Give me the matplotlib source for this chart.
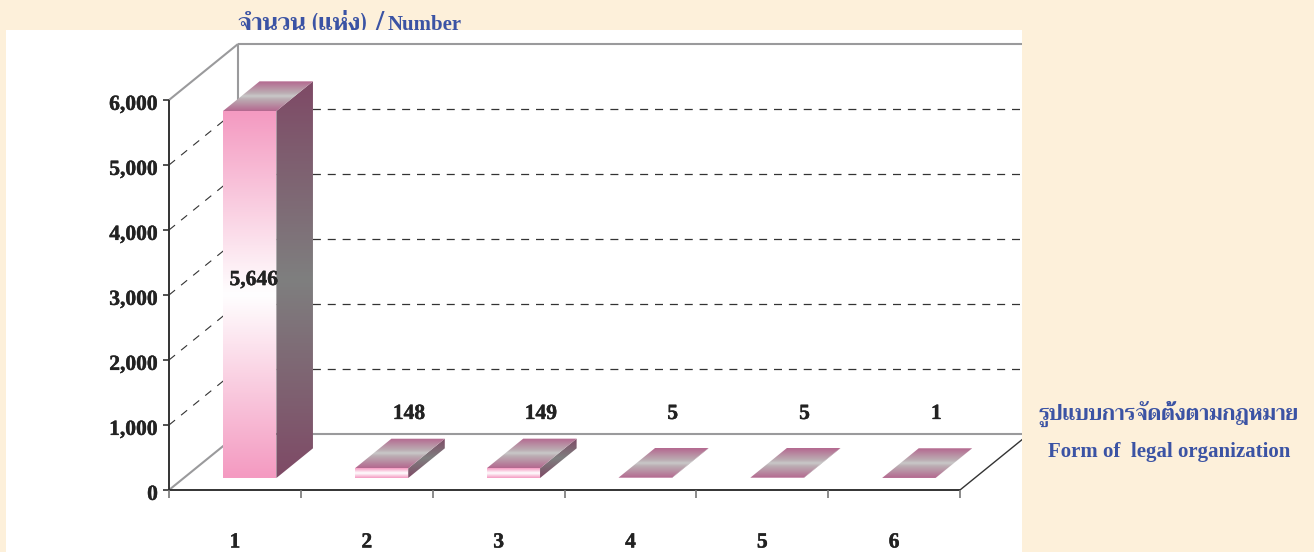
import matplotlib
matplotlib.use("Agg")
import matplotlib.pyplot as plt
import matplotlib.patheffects as pe
import numpy as np
from matplotlib.colors import LinearSegmentedColormap
from matplotlib.patches import Polygon, Rectangle

categories = ["1", "2", "3", "4", "5", "6"]
values = [5646, 148, 149, 5, 5, 1]
value_labels = ["5,646", "148", "149", "5", "5", "1"]
y_ticks = [0, 1000, 2000, 3000, 4000, 5000, 6000]

W, H = 1314, 552
BLUE = "#3b53a4"
INK = "#222222"
GREY = "#9a9a9c"
SERIF = ["Liberation Serif", "DejaVu Serif"]
THAI = ["Trirong", "Taviraj", "Liberation Serif", "DejaVu Sans"]
HEAVY = [pe.withStroke(linewidth=0.3, foreground=INK)]

front_cmap = LinearSegmentedColormap.from_list("front", ["#f49ac1", "#ffffff", "#f49ac1"])
top_cmap = LinearSegmentedColormap.from_list(
    "top", [(0, "#b4688f"), (0.4, "#bcaeb3"), (0.5, "#c9c9c9"), (0.6, "#bcaeb3"), (1, "#b4688f")])
side_cmap = LinearSegmentedColormap.from_list("side", ["#7e4a66", "#7f7f7f", "#7e4a66"])

fig = plt.figure(figsize=(W / 100, H / 100), dpi=100, facecolor="#fdf0da")
ax = fig.add_axes([169 / W, (H - 490) / H, 791 / W, 390 / H])
ax.patch.set_alpha(0)
ax.set_axis_off()
ax.set_zorder(1)

panel = Rectangle((6 / W, 0), 1016 / W, 522 / H, transform=fig.transFigure, fc="white", ec="none", zorder=0.5)
fig.add_artist(panel)

# depth of the fake 3d box, in data units
dx = 69 * 6 / 791
dy = 56 * 6000 / 390


def line(xs, ys, color=GREY, lw=1.5, **kw):
    l, = ax.plot(xs, ys, color=color, lw=lw, solid_capstyle="butt", **kw)
    l.set_clip_box(fig.bbox)
    l.set_clip_path(panel)
    return l


def face(verts, cmap, z):
    ys = [v[1] for v in verts]
    xs = [v[0] for v in verts]
    grad = np.linspace(0, 1, 128).reshape(-1, 1)
    im = ax.imshow(grad, cmap=cmap, aspect="auto", origin="lower", interpolation="bilinear",
                   extent=[min(xs), max(xs), min(ys), max(ys)], zorder=z)
    poly = Polygon(verts, closed=True, transform=ax.transData, fc="none", ec="none")
    im.set_clip_box(fig.bbox)
    im.set_clip_path(poly)


# walls and floor
line([dx, 6 + dx], [dy, dy])
line([dx, 6 + dx], [6000 + dy, 6000 + dy])
line([dx, dx], [dy, 6000 + dy])
line([0, dx], [6000, 6000 + dy])
line([0, dx], [0, dy])
line([6, 6 + dx], [0, dy], color="#333333", lw=1)
for t in y_ticks[1:-1]:
    line([0, dx], [t, t + dy], color="#333333", lw=0.8, dashes=(7, 7))
    line([dx, 6 + dx], [t + dy, t + dy], color="#333333", lw=0.9, dashes=(6.4, 5.5))
line([0, 0], [0, 6000], color="#333333", lw=1.4)
line([0, 6], [0, 0], color="#333333", lw=1.4)

# ticks
tick_w = 6 * 6 / 791
tick_h = 8 * 6000 / 390
for t in y_ticks:
    line([-tick_w, 0], [t, t], color="#333333", lw=1.2)
    ax.text(-11 * 6 / 791, t - 75, f"{t:,}", ha="right", va="center", fontsize=15.5, fontweight="bold",
            family=SERIF, color=INK, zorder=30, path_effects=HEAVY)
for i in range(7):
    line([i, i], [-tick_h, 0], color="#777777", lw=1.2)
for i, c in enumerate(categories):
    ax.text(i + 0.5, -52.5 * 6000 / 390, c, ha="center", va="center", fontsize=15.5, fontweight="bold",
            family=SERIF, color=INK, zorder=30, path_effects=HEAVY)

# bars
z0 = 0.214
bw = 0.405
depth = 0.53
for i, v in enumerate(values):
    x0 = i + 0.5 - bw / 2 + z0 * dx
    x1 = x0 + bw
    y0 = z0 * dy
    y1 = y0 + v
    ox = depth * dx
    oy = depth * dy
    face([(x1, y0), (x1 + ox, y0 + oy), (x1 + ox, y1 + oy), (x1, y1)], side_cmap, 3 + i)
    face([(x0, y1), (x1, y1), (x1 + ox, y1 + oy), (x0 + ox, y1 + oy)], top_cmap, 3 + i)
    face([(x0, y0), (x1, y0), (x1, y1), (x0, y1)], front_cmap, 3 + i)

# value labels
ax.text(0.5 + z0 * dx + 0.03, 3230, value_labels[0], ha="center", va="center", fontsize=15.5, fontweight="bold",
        family=SERIF, color=INK, zorder=30, path_effects=HEAVY)
for i in range(1, 6):
    ax.text(i + 0.5 + 0.32, 1170, value_labels[i], ha="center", va="center", fontsize=15.5, fontweight="bold",
            family=SERIF, color=INK, zorder=30, path_effects=HEAVY)

ax.set_xlim(0, 6)
ax.set_ylim(0, 6000)

# titles
fig.text(238 / W, 1 - 30 / H, "จำนวน (แห่ง)", fontsize=17, fontweight="bold", family=THAI, color=BLUE, zorder=0)
fig.text(374 / W, 1 - 33 / H, "/", fontsize=24, fontweight="bold", family=SERIF, color=BLUE, zorder=0)
fig.text(388 / W, 1 - 30 / H, "Number", fontsize=15, fontweight="bold", family=SERIF, color=BLUE, zorder=0)
fig.text(1169 / W, 1 - 415 / H, "รูปแบบการจัดตั้งตามกฎหมาย", ha="center", va="center", fontsize=15,
         fontweight="bold", family=THAI, color=BLUE, zorder=3)
fig.text(1169 / W, 1 - 452 / H, "Form of  legal organization", ha="center", va="center", fontsize=15,
         fontweight="bold", family=SERIF, color=BLUE, zorder=3)

fig.savefig("out.png", dpi=100, facecolor=fig.get_facecolor())
